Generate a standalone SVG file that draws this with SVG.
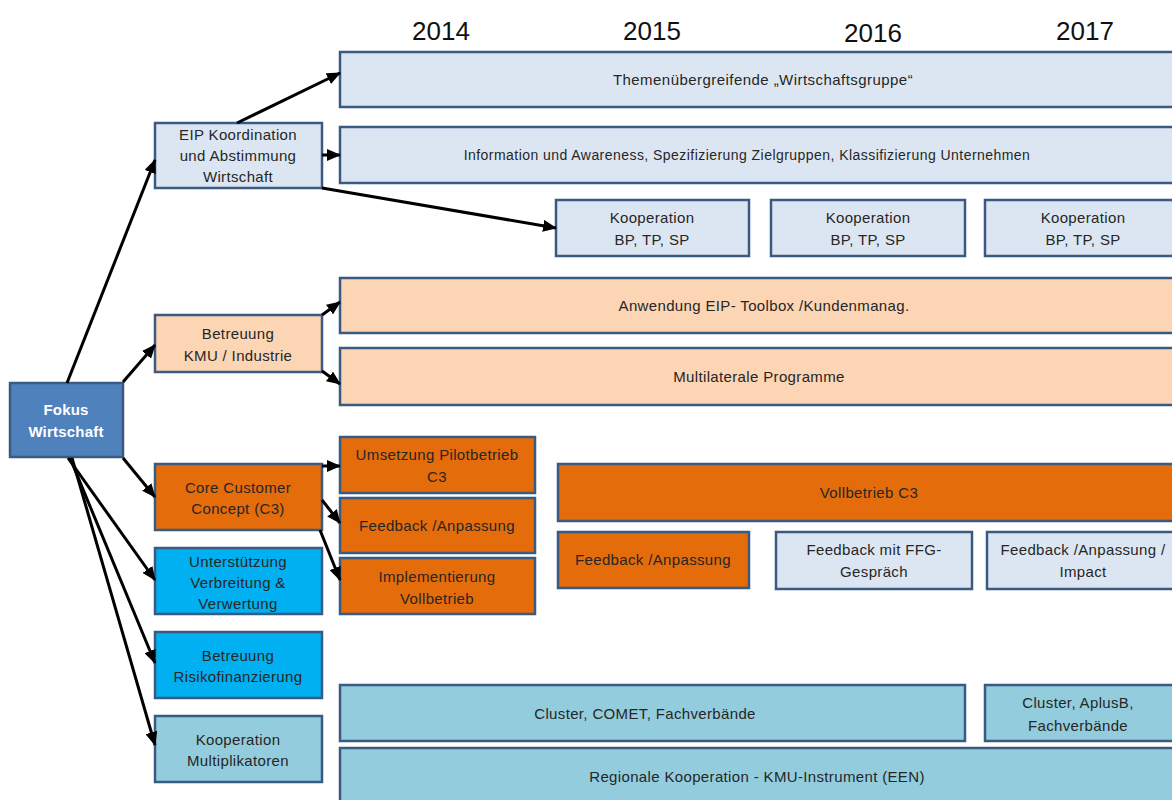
<svg xmlns="http://www.w3.org/2000/svg" width="1172" height="800" viewBox="0 0 1172 800">
<style>
text{font-family:"Liberation Sans",Arial,sans-serif;font-size:15px;letter-spacing:0.35px;fill:#262626;text-anchor:middle}
.yr{font-size:26px;letter-spacing:0;fill:#111}
.sm{font-size:14px;letter-spacing:0.45px}
.b{stroke:#3b5a82;stroke-width:2.5}
.lb{fill:#dce6f2}
.pe{fill:#fcd5b5}
.or{fill:#e46c0a}
.fk{fill:#4f81bd}
.cy{fill:#00b0f0}
.aq{fill:#93cddd}
.w{fill:#fff;font-weight:bold;letter-spacing:0.2px}
.c line{stroke:#000;stroke-width:3;marker-end:url(#ah)}
</style>
<defs>
<marker id="ah" markerUnits="userSpaceOnUse" markerWidth="14" markerHeight="12" refX="13" refY="6" orient="auto">
<path d="M0,0 L14,6 L0,12 z" fill="#000"/>
</marker>
</defs>
<rect width="1172" height="800" fill="#fff"/>
<g id="years">
<text class="yr" x="441" y="40">2014</text>
<text class="yr" x="652" y="40">2015</text>
<text class="yr" x="873" y="42">2016</text>
<text class="yr" x="1085" y="40">2017</text>
</g>
<g id="fokus"><rect class="b fk" x="10" y="383" width="113" height="74"/><text class="w" x="66" y="415">Fokus</text><text class="w" x="66" y="437">Wirtschaft</text></g>
<g id="eip"><rect class="b lb" x="155" y="123" width="167" height="65"/><text x="238" y="140">EIP Koordination</text><text x="238" y="161">und Abstimmung</text><text x="238" y="182">Wirtschaft</text></g>
<g id="kmu"><rect class="b pe" x="155" y="315" width="167" height="57"/><text x="238" y="339">Betreuung</text><text x="238" y="361">KMU / Industrie</text></g>
<g id="c3"><rect class="b or" x="155" y="464" width="167" height="66"/><text x="238" y="493">Core Customer</text><text x="238" y="514">Concept (C3)</text></g>
<g id="unterst"><rect class="b cy" x="155" y="548" width="167" height="66"/><text x="238" y="567">Unterstützung</text><text x="238" y="588">Verbreitung &amp;</text><text x="238" y="609">Verwertung</text></g>
<g id="risiko"><rect class="b cy" x="155" y="632" width="167" height="66"/><text x="238" y="661">Betreuung</text><text x="238" y="682">Risikofinanzierung</text></g>
<g id="multi"><rect class="b aq" x="155" y="716" width="167" height="66"/><text x="238" y="745">Kooperation</text><text x="238" y="766">Multiplikatoren</text></g>
<g id="themen"><rect class="b lb" x="340" y="52" width="845" height="55"/><text class="sm" x="763" y="85" style="font-size:15px">Themenübergreifende „Wirtschaftsgruppe“</text></g>
<g id="info"><rect class="b lb" x="340" y="127" width="845" height="56"/><text class="sm" x="747" y="160">Information und Awareness, Spezifizierung Zielgruppen, Klassifizierung Unternehmen</text></g>
<g id="koop1"><rect class="b lb" x="556" y="200" width="193" height="56"/><text x="652" y="223">Kooperation</text><text x="652" y="245">BP, TP, SP</text></g>
<g id="koop2"><rect class="b lb" x="771" y="200" width="194" height="56"/><text x="868" y="223">Kooperation</text><text x="868" y="245">BP, TP, SP</text></g>
<g id="koop3"><rect class="b lb" x="985" y="200" width="196" height="56"/><text x="1083" y="223">Kooperation</text><text x="1083" y="245">BP, TP, SP</text></g>
<g id="anwendung"><rect class="b pe" x="340" y="278" width="845" height="55"/><text x="764" y="311">Anwendung EIP- Toolbox /Kundenmanag.</text></g>
<g id="multilateral"><rect class="b pe" x="340" y="348" width="845" height="57"/><text x="759" y="382">Multilaterale Programme</text></g>
<g id="pilot"><rect class="b or" x="340" y="437" width="195" height="56"/><text x="437" y="460">Umsetzung Pilotbetrieb</text><text x="437" y="482">C3</text></g>
<g id="fb1"><rect class="b or" x="340" y="498" width="195" height="55"/><text x="437" y="531">Feedback /Anpassung</text></g>
<g id="impl"><rect class="b or" x="340" y="558" width="195" height="56"/><text x="437" y="582">Implementierung</text><text x="437" y="604">Vollbetrieb</text></g>
<g id="vollbetrieb"><rect class="b or" x="558" y="464" width="627" height="57"/><text x="869" y="498">Vollbetrieb C3</text></g>
<g id="fb2"><rect class="b or" x="558" y="532" width="191" height="56"/><text x="653" y="565">Feedback /Anpassung</text></g>
<g id="ffg"><rect class="b lb" x="776" y="532" width="196" height="57"/><text x="874" y="555">Feedback mit FFG-</text><text x="874" y="577">Gespräch</text></g>
<g id="impact"><rect class="b lb" x="987" y="532" width="198" height="57"/><text x="1083" y="555">Feedback /Anpassung /</text><text x="1083" y="577">Impact</text></g>
<g id="cluster1"><rect class="b aq" x="340" y="685" width="625" height="56"/><text x="645" y="719">Cluster, COMET, Fachverbände</text></g>
<g id="cluster2"><rect class="b aq" x="985" y="685" width="196" height="56"/><text x="1078" y="708">Cluster, AplusB,</text><text x="1078" y="731">Fachverbände</text></g>
<g id="regional"><rect class="b aq" x="340" y="748" width="845" height="60"/><text x="757" y="782">Regionale Kooperation -  KMU-Instrument (EEN)</text></g>
<g class="c" id="connectors">
<line x1="67" y1="383" x2="155" y2="160"/>
<line x1="123" y1="382" x2="155" y2="345"/>
<line x1="237" y1="123" x2="340" y2="73"/>
<line x1="322" y1="155" x2="340" y2="155"/>
<line x1="322" y1="188" x2="556" y2="228"/>
<line x1="322" y1="315" x2="340" y2="302"/>
<line x1="322" y1="371" x2="340" y2="384"/>
<line x1="123" y1="458" x2="155" y2="497"/>
<line x1="68" y1="458" x2="155" y2="580"/>
<line x1="70" y1="458" x2="155" y2="663"/>
<line x1="72" y1="458" x2="155" y2="745"/>
<line x1="322" y1="466" x2="340" y2="466"/>
<line x1="322" y1="500" x2="340" y2="523"/>
<line x1="320" y1="530" x2="340" y2="580"/>
</g>
</svg>
